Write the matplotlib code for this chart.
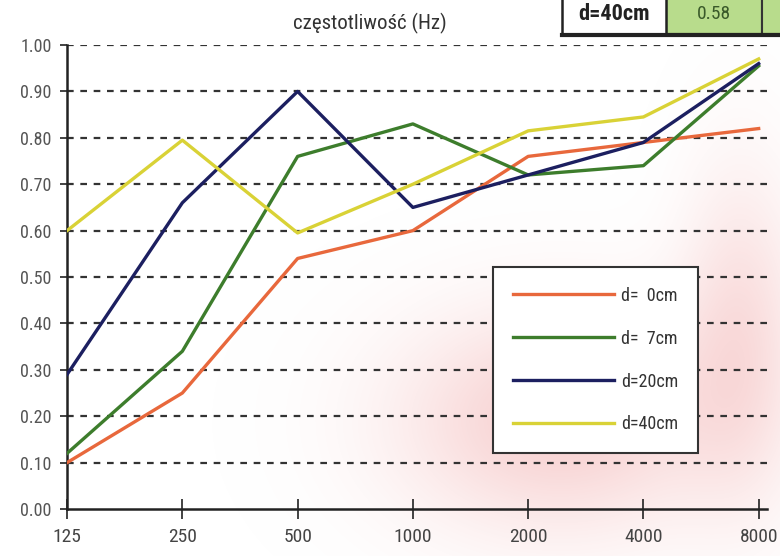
import matplotlib
matplotlib.use("Agg")
import matplotlib.pyplot as plt
from matplotlib import font_manager
import numpy as np
from matplotlib.patches import Rectangle

installed = {f.name for f in font_manager.fontManager.ttflist}
narrow = [n for n in ["Liberation Sans Narrow", "Roboto Condensed", "Open Sans Condensed",
                      "DejaVu Sans Condensed", "Noto Sans Condensed"] if n in installed]
plt.rcParams['font.family'] = (narrow[:1] or []) + ['DejaVu Sans']

freqs = ["125", "250", "500", "1000", "2000", "4000", "8000"]
y_ticks = [0.0, 0.1, 0.2, 0.3, 0.4, 0.5, 0.6, 0.7, 0.8, 0.9, 1.0]
series_labels = ["d=  0cm", "d=  7cm", "d=20cm", "d=40cm"]
d0 = [0.10, 0.25, 0.54, 0.60, 0.76, 0.79, 0.82]
d7 = [0.12, 0.34, 0.76, 0.83, 0.72, 0.74, 0.955]
d20 = [0.29, 0.66, 0.90, 0.65, 0.72, 0.79, 0.96]
d40 = [0.60, 0.795, 0.595, 0.70, 0.815, 0.845, 0.97]
colors = ["#e8683c", "#3d7d2c", "#1c1f60", "#d9d236"]
title = "częstotliwość (Hz)"
table_label = "d=40cm"
table_value = "0.58"

fig = plt.figure(figsize=(7.8, 5.56), dpi=100)

# faint pink scan blob (background decoration)
bg = fig.add_axes([0, 0, 1, 1], zorder=0)
bg.set_axis_off()
yy, xx = np.mgrid[0:556, 0:780]
blob = np.exp(-(((xx - 560) / 160.0) ** 2 + ((yy - 420) / 110.0) ** 2))
blob2 = np.exp(-(((xx - 740) / 60.0) ** 2 + ((yy - 330) / 160.0) ** 2))
a = np.clip(0.45 * blob + 0.3 * blob2, 0, 1)
rgba = np.zeros((556, 780, 4))
rgba[..., 0] = 0.94
rgba[..., 1] = 0.60
rgba[..., 2] = 0.60
rgba[..., 3] = a
bg.imshow(rgba, extent=[0, 780, 556, 0], aspect='auto')
bg.set_xlim(0, 780)
bg.set_ylim(556, 0)

ax = fig.add_axes([0.086, 0.0845, 0.897, 0.8345], zorder=1)
ax.patch.set_alpha(0)
x = np.arange(len(freqs))
for vals, c, lab in zip([d0, d7, d20, d40], colors, series_labels):
    ax.plot(x, vals, color=c, lw=2.4, label=lab, zorder=3)

ax.set_xlim(0, 6.07)
ax.set_ylim(0, 1.0)
ax.set_xticks(x)
ax.set_xticklabels(freqs)
ax.set_yticks(y_ticks)
ax.set_yticklabels([f"{v:.2f}" for v in y_ticks])
for v in y_ticks[1:]:
    ax.axhline(v, color="#333333", lw=1.6, ls=(0, (3, 3)), zorder=2)

for s in ["top", "right"]:
    ax.spines[s].set_visible(False)
for s in ["left", "bottom"]:
    ax.spines[s].set_color("#222222")
    ax.spines[s].set_linewidth(1.8)
ax.tick_params(axis='y', direction='out', length=5, width=1.2, colors="#222222",
               labelcolor="#555555", labelsize=13, pad=6)
ax.tick_params(axis='x', direction='inout', length=14, width=1.2, colors="#222222",
               labelcolor="#444444", labelsize=14, pad=7)

fig.text(0.474, 0.958, title, ha='center', va='center', fontsize=15, color="#333333")

leg = ax.legend(loc='lower left', bbox_to_anchor=(0.609, 0.12), borderaxespad=0,
                frameon=True, fancybox=False, edgecolor="#333333", framealpha=1.0,
                handlelength=5.6, handletextpad=0.4, labelspacing=1.38,
                borderpad=1.1, fontsize=13)
leg.get_frame().set_linewidth(1.5)
for t in leg.get_texts():
    t.set_color("#333333")

# cut-off table fragment at top right (figure pixel coords)
tab = fig.add_axes([0, 0, 1, 1], zorder=4)
tab.set_axis_off()
tab.set_xlim(0, 780)
tab.set_ylim(556, 0)
tab.add_patch(Rectangle((666, -2), 96, 36, facecolor="#b8dc8c", edgecolor="#333333", lw=1.5))
tab.add_patch(Rectangle((762, -2), 30, 36, facecolor="#b8dc8c", edgecolor="#333333", lw=1.5))
tab.add_patch(Rectangle((562, -2), 104, 36, facecolor="white", edgecolor="#222222", lw=1.8))
tab.plot([562, 780], [35, 35], color="#222222", lw=3)
tab.text(614, 14, table_label, ha='center', va='center', fontsize=16, color="#222222",
         fontweight='bold')
tab.text(714, 14, table_value, ha='center', va='center', fontsize=14, color="#3a5a2a")

fig.savefig("out.png", dpi=100)
